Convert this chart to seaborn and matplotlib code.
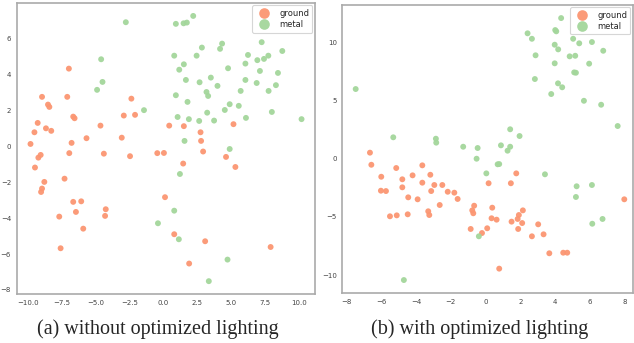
import pandas as pd
import matplotlib
matplotlib.use('Agg')
import matplotlib.pyplot as plt
import seaborn as sns

# --- data ---
# (a) without optimized lighting
a_ground_x = [-9.79, -9.50, -9.26, -8.94, -8.50, -8.40, -8.65, -8.26, -9.46, -9.21, -9.04, -8.77, -8.94, -9.01,
              -6.96, -7.08, -6.64, -6.54, -6.76, -6.93, -7.28, -6.64, -6.05, -6.44, -7.67, -5.90, -7.57, -5.66,
              -4.63, -4.38, -4.24, -4.29, -3.06, -2.91, -2.35, -2.08, -2.45, -0.44, 0.44, 1.52, 2.75, 2.79,
              5.18, 0.05, 2.94, 4.63, 1.47, 5.32, 0.13, 0.81, 3.09, 1.91, 7.92]
a_ground_y = [0.12, 0.77, 1.29, 2.74, 2.31, 2.18, 0.99, 0.85, -1.19, -0.64, -0.49, -1.99, -2.36, -2.55,
              4.31, 2.74, 1.64, 1.55, 0.18, -0.39, -1.81, -3.10, -3.07, -3.66, -3.92, -4.59, -5.68, 0.44,
              1.14, -0.42, -3.51, -3.88, 0.47, 1.70, 2.64, 1.74, -0.56, -0.39, 1.14, 1.11, 0.77, 0.29,
              1.22, -0.38, -0.30, -0.60, -0.97, -1.16, -2.84, -4.90, -5.29, -6.53, -5.61]
a_metal_x = [-2.76, -4.58, -4.48, -4.88, -1.42, -0.39, 2.21, 1.74, 1.50, 0.93, 4.34, 2.85, 4.19, 7.26, 8.78,
             6.25, 7.75, 7.43, 6.94, 6.06, 0.81, 2.46, 1.52, 1.18, 4.78, 7.13, 8.46, 1.67, 3.51, 2.68, 6.06,
             6.89, 8.31, 4.00, 3.19, 3.31, 5.71, 7.77, 0.93, 1.79, 4.90, 5.57, 4.54, 3.24, 8.01, 1.06, 1.89,
             2.65, 3.75, 6.10, 10.2, 1.57, 4.90, 1.23, 0.81, 1.15, 4.74, 3.36]
a_metal_y = [6.89, 4.83, 3.57, 3.13, 2.00, -4.29, 7.24, 6.87, 6.83, 6.80, 5.70, 5.48, 5.41, 5.78, 5.29,
             5.07, 5.03, 4.85, 4.78, 4.59, 5.03, 5.03, 4.55, 4.25, 4.33, 4.18, 4.07, 3.68, 3.81, 3.55, 3.68,
             3.51, 3.39, 3.35, 3.01, 2.79, 3.07, 3.07, 2.83, 2.46, 2.33, 2.24, 2.01, 1.86, 1.90, 1.62, 1.50,
             1.40, 1.42, 1.57, 1.50, 0.29, -0.16, -1.55, -3.59, -5.18, -6.31, -7.51]

# (b) with optimized lighting
b_ground_x = [-6.65, -6.57, -6.00, -6.02, -5.73, -5.14, -4.79, -4.79, -5.50, -5.11, -4.48, -4.45, -4.20, -3.91,
              -3.64, -3.64, -3.18, -3.13, -2.95, -3.30, -3.24, -2.64, -2.49, -2.18, -1.80, -1.61, -0.86, -0.77,
              -0.71, -0.66, 1.76, 0.17, 1.45, 0.38, 2.14, 1.91, 0.34, 0.63, 1.84, 1.49, 2.10, 3.02, 1.87,
              0.09, -0.21, 2.66, 3.33, 3.66, 4.46, 4.69, 0.78, 7.97]
b_ground_y = [0.52, -0.52, -1.55, -2.75, -2.78, -0.80, -1.77, -2.46, -4.95, -4.87, -4.78, -3.32, -1.43, -3.49,
              -0.57, -2.06, -1.38, -2.78, -2.26, -4.52, -4.84, -3.98, -2.26, -2.84, -2.92, -3.46, -6.04, -4.44,
              -4.69, -4.04, -1.26, -2.11, -2.11, -4.21, -4.44, -4.84, -5.12, -5.24, -5.18, -5.41, -5.53, -5.64, -6.04,
              -5.98, -6.39, -6.67, -6.50, -8.13, -8.08, -8.08, -9.45, -3.49]
b_metal_x = [-7.47, -5.31, -2.86, -2.84, -1.29, -0.46, -0.52, -0.39, -4.70, 4.34, 2.41, 2.66, 4.00, 4.06,
             5.03, 5.38, 6.11, 6.76, 3.97, 4.17, 2.87, 4.83, 5.15, 3.97, 5.95, 5.09, 5.19, 2.83, 4.16, 4.40,
             3.77, 5.65, 6.64, 7.59, 1.41, 1.95, 0.88, 1.41, 1.26, 0.69, 0.78, 0.04, 3.41, 5.23, 6.11, 5.19,
             6.72, 6.13]
b_metal_y = [5.99, 1.84, 1.72, 1.38, 1.03, 0.92, 0.00, -6.67, -10.43, 12.09, 10.78, 10.31, 11.06, 10.95,
             10.31, 9.92, 10.03, 9.28, 9.80, 9.40, 8.89, 8.80, 8.85, 8.20, 8.17, 7.42, 7.39, 6.85, 6.48, 6.14,
             5.56, 4.98, 4.64, 2.81, 2.53, 1.95, 1.15, 1.03, 0.69, -0.48, -0.46, -1.26, -1.34, -2.37, -2.26, -3.29,
             -5.18, -5.59]

captions = ['(a) without optimized lighting', '(b) with optimized lighting']
palette = {'ground': '#fb9672', 'metal': '#a3d69b'}


def make_df(gx, gy, mx, my):
    g = pd.DataFrame({'x': gx, 'y': gy, 'label': 'ground'})
    m = pd.DataFrame({'x': mx, 'y': my, 'label': 'metal'})
    return pd.concat([g, m], ignore_index=True)


df_a = make_df(a_ground_x, a_ground_y, a_metal_x, a_metal_y)
df_b = make_df(b_ground_x, b_ground_y, b_metal_x, b_metal_y)

sns.set_style('white')

fig = plt.figure(figsize=(6.34, 3.43), dpi=100)
ax1 = fig.add_axes([0.0263, 0.1420, 0.4705, 0.8493])
ax2 = fig.add_axes([0.5399, 0.1449, 0.4585, 0.8414])

for ax, df in [(ax1, df_a), (ax2, df_b)]:
    sns.scatterplot(data=df, x='x', y='y', hue='label', palette=palette, s=18,
                    linewidth=0, alpha=0.95, ax=ax)
    ax.set_xlabel('')
    ax.set_ylabel('')
    for sp in ax.spines.values():
        sp.set_color('#aaaaaa')
        sp.set_linewidth(1.2)
    ax.tick_params(labelsize=5, length=2.5, width=0.6, color='#444444', pad=1.5, labelcolor='#444444')
    leg = ax.legend(loc='upper right', fontsize=6, markerscale=1.8, frameon=True,
                    borderpad=0.4, handletextpad=0.8, labelspacing=0.3, borderaxespad=0.3)
    leg.get_frame().set_edgecolor('#cccccc')
    leg.get_frame().set_linewidth(0.8)

ax1.set_xlim(-10.81, 11.19)
ax1.set_ylim(-8.24, 7.96)
ax1.set_xticks([-10.0, -7.5, -5.0, -2.5, 0.0, 2.5, 5.0, 7.5, 10.0])
ax1.set_yticks([-8, -6, -4, -2, 0, 2, 4, 6])

ax2.set_xlim(-8.24, 8.47)
ax2.set_ylim(-11.57, 13.24)
ax2.set_xticks([-8, -6, -4, -2, 0, 2, 4, 6, 8])
ax2.set_yticks([-10, -5, 0, 5, 10])

fig.text(158 / 634, 1 - 329 / 343, captions[0], ha='center', va='center',
         fontsize=14.5, family='Liberation Serif')
fig.text(480 / 634, 1 - 329 / 343, captions[1], ha='center', va='center',
         fontsize=14.5, family='Liberation Serif')

fig.savefig('out.png', dpi=100)
